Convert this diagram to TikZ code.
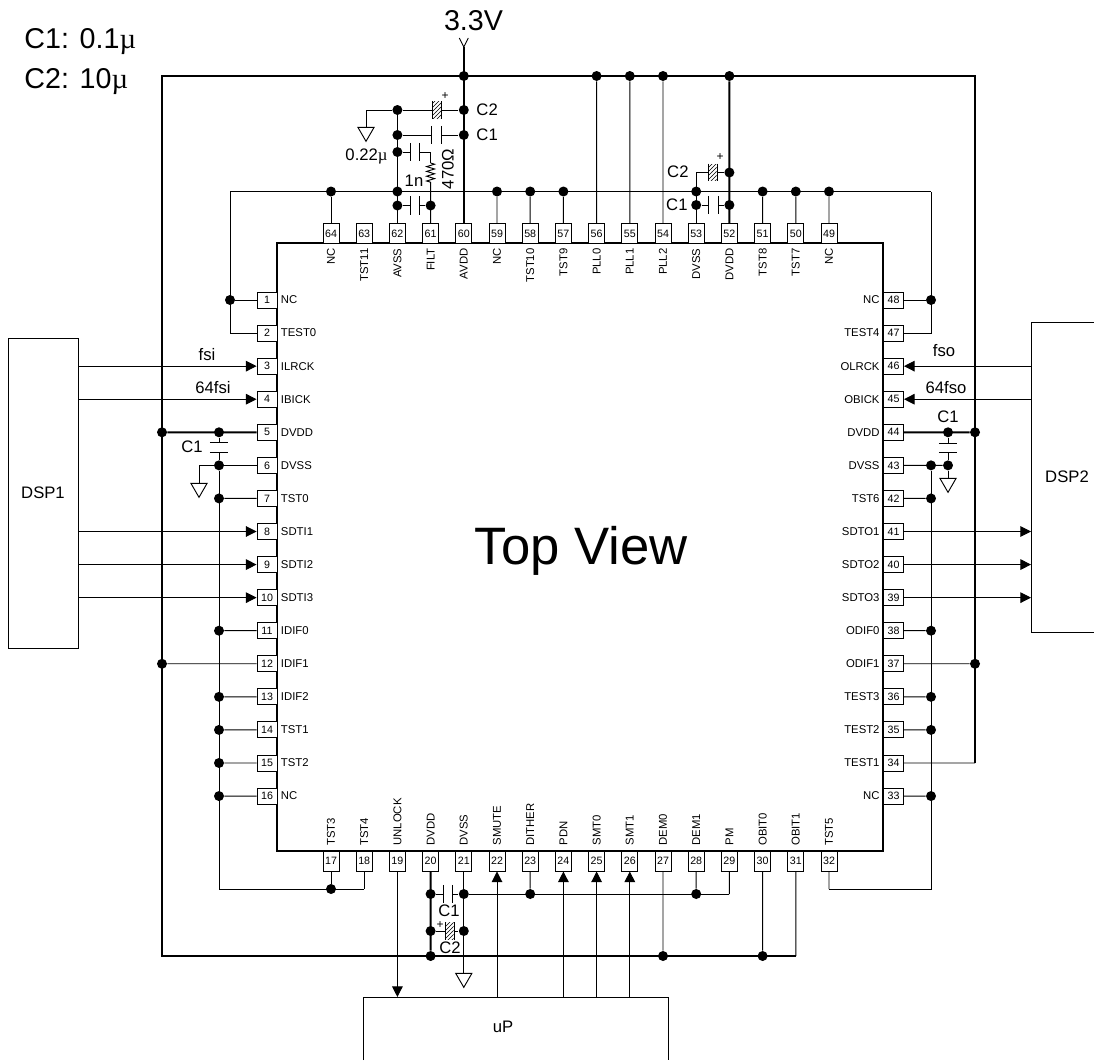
\documentclass[tikz,border=0pt]{standalone}
\usepackage{fontspec}
\setmainfont{Liberation Sans}
\newfontfamily\mufont{Liberation Serif}
\usetikzlibrary{arrows.meta,patterns,shapes.geometric,decorations.pathmorphing}

\tikzset{
    pinh/.style={draw, fill=white, minimum width=15pt, minimum height=12pt, inner sep=0pt, font=\fontsize{8}{9}\selectfont},
    pinv/.style={draw, fill=white, minimum width=12pt, minimum height=15pt, inner sep=0pt, font=\fontsize{8}{9}\selectfont},
    pinname/.style={inner sep=0pt, font=\fontsize{8.5}{10}\selectfont},
    jdot/.style={circle, fill=black, minimum size=7.5pt, inner sep=0pt},
    txt/.style={inner sep=0pt, font=\fontsize{12.5}{14}\selectfont},
    bigtxt/.style={inner sep=0pt, font=\fontsize{21.5}{24}\selectfont},
    plus/.style={inner sep=0pt, font=\fontsize{9}{10}\selectfont},
    pwr/.style={line width=1.5pt},
    sig/.style={-{Triangle[length=8pt,width=8pt]}},
    capv/.style={minimum width=6.4pt, minimum height=13pt, inner sep=0pt},
    caph/.style={minimum width=13pt, minimum height=6.4pt, inner sep=0pt},
    polar/.style={minimum width=6pt, minimum height=12.5pt, inner sep=0pt, pattern=north east lines},
    gnd/.style={draw, fill=white, regular polygon, regular polygon sides=3, shape border rotate=180, minimum size=14pt, inner sep=0pt},
}
\newcommand{\mic}{{\mufont µ}}

\begin{document}
\begin{tikzpicture}[x=0.75pt, y=-0.75pt, line width=0.7pt]
    \useasboundingbox (0,0) rectangle (1094,1060);

    % chip and pins
    \node[draw, pwr, minimum width=454.5pt, minimum height=456pt, inner sep=0pt] (chip) at (580,547) {};
    \node[inner sep=0pt, font=\fontsize{39.5}{44}\selectfont] (ttl) at (581,551) {Top View};
    \foreach \n/\lbl [evaluate=\n as \py using 300+(\n-1)*33.07] in {1/NC,2/TEST0,3/ILRCK,4/IBICK,5/DVDD,6/DVSS,7/TST0,8/SDTI1,9/SDTI2,10/SDTI3,11/IDIF0,12/IDIF1,13/IDIF2,14/TST1,15/TST2,16/NC} {
        \node[pinh] (p\n) at (267,\py) {\n};
        \node[pinname, anchor=west] (lb\n) at (280.5,\py) {\lbl};
    }
    \foreach \n/\lbl [evaluate=\n as \py using 300+(48-\n)*33.07] in {48/NC,47/TEST4,46/OLRCK,45/OBICK,44/DVDD,43/DVSS,42/TST6,41/SDTO1,40/SDTO2,39/SDTO3,38/ODIF0,37/ODIF1,36/TEST3,35/TEST2,34/TEST1,33/NC} {
        \node[pinh] (p\n) at (893.5,\py) {\n};
        \node[pinname, anchor=east] (lb\n) at (880,\py) {\lbl};
    }
    \foreach \n/\lbl [evaluate=\n as \px using 331+(64-\n)*33.2] in {64/NC,63/TST11,62/AVSS,61/FILT,60/AVDD,59/NC,58/TST10,57/TST9,56/PLL0,55/PLL1,54/PLL2,53/DVSS,52/DVDD,51/TST8,50/TST7,49/NC} {
        \node[pinv] (p\n) at (\px,233.5) {\n};
        \node[pinname, rotate=90, anchor=east] (lb\n) at (\px,248) {\lbl};
    }
    \foreach \n/\lbl [evaluate=\n as \px using 331+(\n-17)*33.2] in {17/TST3,18/TST4,19/UNLOCK,20/DVDD,21/DVSS,22/SMUTE,23/DITHER,24/PDN,25/SMT0,26/SMT1,27/DEM0,28/DEM1,29/PM,30/OBIT0,31/OBIT1,32/TST5} {
        \node[pinv] (p\n) at (\px,861) {\n};
        \node[pinname, rotate=90, anchor=west] (lb\n) at (\px,846) {\lbl};
    }

    % blocks
    \node[draw, minimum width=52.5pt, minimum height=232.5pt, inner sep=0pt, font=\fontsize{12.5}{14}\selectfont] (dsp1) at (43,493) {DSP1};
    \coordinate (dsp2a) at (1094,322);
    \coordinate (dsp2b) at (1031,322);
    \coordinate (dsp2c) at (1031,632);
    \coordinate (dsp2d) at (1094,632);
    \draw (dsp2a) -- (dsp2b) -- (dsp2c) -- (dsp2d);
    \node[txt] (dsp2) at (1067,477) {DSP2};
    \coordinate (upa) at (363,1060);
    \coordinate (upb) at (363,997);
    \coordinate (upc) at (668,997);
    \coordinate (upd) at (668,1060);
    \draw (upa) -- (upb) -- (upc) -- (upd);
    \node[txt] (up) at (503,1027) {uP};

    % junctions
    \foreach \nm/\px/\py in {t60/463.8/76,t56/596.6/76,t55/629.8/76,t54/663/76,t52/729.4/76,a1/397.4/110,a2/463.8/110,b1/397.4/135,b2/463.8/135,f1/397.4/152,g62/397.4/191.5,h1/397.4/205.5,h2/430.6/205.5,n64/331/191.5,n59/497/191.5,n58/530.2/191.5,n57/563.4/191.5,n53/696.2/191.5,n51/762.6/191.5,n50/795.8/191.5,n49/829/191.5,c2r/729.4/172.5,c1l/696.2/205,c1r/729.4/205,l1/230/300,r48/931/300,v5/162/432.28,w5/219/432.28,w6/219/465.35,w7/219/498.42,w11/219/630.7,w13/219/696.84,w14/219/729.91,w15/219/762.98,w16/219/796.05,v12/162/663.77,b17/331/889,v44/975/432.28,w44/948/432.28,w43/948/465.35,x43/931/465.35,x42/931/498.42,x38/931/630.7,x36/931/696.84,x35/931/729.91,x33/931/796.05,v37/975/663.77,u1/430.6/894,u2/463.8/894,u3/430.6/931,u4/463.8/931,u5/430.6/956,k23/530.2/894,k28/696.2/894,m27/663/956,m30/762.6/956} {
        \node[jdot] (\nm) at (\px,\py) {};
    }

    % frame
    \coordinate (frbr) at (975,762.98);
    \coordinate (frtr) at (975,76);
    \coordinate (frtl) at (162,76);
    \coordinate (frbl) at (162,956);
    \coordinate (frbe) at (795.8,956);
    \draw[pwr] (frbr) -- (frtr) -- (frtl) -- (frbl) -- (frbe);
    \draw (p34) -- (frbr);
    \draw (p31) -- (frbe);

    % supply
    \coordinate (vin) at (463.8,47);
    \coordinate (vinl) at (459.3,38);
    \coordinate (vinr) at (468.3,38);
    \node[bigtxt] (vlab) at (473.5,21) {3.3V};
    \draw (vinl) -- (vin) -- (vinr);
    \draw[pwr] (vin) -- (p60);
    \draw[pwr] (t52) -- (p52);
    \draw (t56) -- (p56);
    \draw (t55) -- (p55);
    \draw (t54) -- (p54);

    % bias line at the top
    \coordinate (bl) at (230,191.5);
    \coordinate (br) at (931,191.5);
    \draw (bl) -- (br);
    \draw (p2) -| (bl);
    \draw (p47) -| (br);
    \draw (l1) -- (p1);
    \draw (r48) -- (p48);
    \draw (n64) -- (p64);
    \draw (n59) -- (p59);
    \draw (n58) -- (p58);
    \draw (n57) -- (p57);
    \draw (n51) -- (p51);
    \draw (n50) -- (p50);
    \draw (n49) -- (p49);

    % filter near pins 60 to 62
    \node[polar] (ca) at (437,110) {};
    \node[capv] (cb) at (436.5,135) {};
    \node[capv] (cc) at (415,152) {};
    \node[capv] (cd) at (415,205.5) {};
    \node[gnd] (g1) at (366,132) {};
    \coordinate (res1) at (430.6,163);
    \coordinate (res2) at (430.6,183);
    \draw (a1) -- (p62);
    \draw (a1) -| (g1.north);
    \draw (a1) -- (ca.west);
    \draw (ca.east) -- (a2);
    \draw (b1) -- (cb.west);
    \draw (cb.east) -- (b2);
    \draw (f1) -- (cc.west);
    \draw (cc.east) -| (res1);
    \draw[decorate, decoration={zigzag, segment length=3.6pt, amplitude=3pt}] (res1) -- (res2);
    \draw (res2) -- (p61);
    \draw (h1) -- (cd.west);
    \draw (cd.east) -- (h2);
    \node[plus] (pl1) at (445,96) {+};
    \node[txt, anchor=west] (lc2a) at (476,110) {C2};
    \node[txt, anchor=west] (lc1a) at (476,135) {C1};
    \node[txt, anchor=east] (lf1) at (388,156) {0.22\mic};
    \node[txt] (lf2) at (414,181) {1n};
    \node[txt, rotate=90] (lf3) at (448,169) {470Ω};

    % decoupling near pins 52 and 53
    \node[polar] (ce) at (712.5,172.5) {};
    \node[capv] (cf) at (713.5,205) {};
    \draw (p53) |- (ce.west);
    \draw (ce.east) -- (c2r);
    \draw (c1l) -- (cf.west);
    \draw (cf.east) -- (c1r);
    \node[plus] (pl2) at (720,157) {+};
    \node[txt, anchor=east] (lc2b) at (689,172) {C2};
    \node[txt, anchor=east] (lc1b) at (688,205) {C1};

    % left side
    \draw[sig] (dsp1.east |- p3) -- (p3);
    \draw[sig] (dsp1.east |- p4) -- (p4);
    \draw[sig] (dsp1.east |- p8) -- (p8);
    \draw[sig] (dsp1.east |- p9) -- (p9);
    \draw[sig] (dsp1.east |- p10) -- (p10);
    \node[txt] (lfsi) at (207,355) {fsi};
    \node[txt] (l64fsi) at (213,388) {64fsi};
    \node[caph] (cg) at (219,447.5) {};
    \node[gnd] (g2) at (199,488) {};
    \coordinate (k18) at (364.2,889);
    \draw[pwr] (v5) -- (p5);
    \draw (w5) -- (cg.north);
    \draw (cg.south) -- (w6);
    \draw (p6) -| (g2.north);
    \draw (w6) |- (k18);
    \draw (k18) -- (p18);
    \draw (b17) -- (p17);
    \draw (w7) -- (p7);
    \draw (w11) -- (p11);
    \draw (w13) -- (p13);
    \draw (w14) -- (p14);
    \draw (w15) -- (p15);
    \draw (w16) -- (p16);
    \draw (v12) -- (p12);
    \node[txt] (lc1c) at (192,447) {C1};

    % right side
    \draw[sig] (dsp2b |- p46) -- (p46);
    \draw[sig] (dsp2b |- p45) -- (p45);
    \draw[sig] (p41) -- (dsp2b |- p41);
    \draw[sig] (p40) -- (dsp2b |- p40);
    \draw[sig] (p39) -- (dsp2b |- p39);
    \node[txt] (lfso) at (944,351) {fso};
    \node[txt] (l64fso) at (946,388) {64fso};
    \node[caph] (ch) at (948,448) {};
    \node[gnd] (g3) at (948,483) {};
    \coordinate (k32) at (829,889);
    \draw[pwr] (p44) -- (v44);
    \draw (w44) -- (ch.north);
    \draw (ch.south) -- (w43);
    \draw (w43) -- (g3.north);
    \draw (p43) -- (w43);
    \draw (x43) |- (k32);
    \draw (k32) -- (p32);
    \draw (x42) -- (p42);
    \draw (x38) -- (p38);
    \draw (x36) -- (p36);
    \draw (x35) -- (p35);
    \draw (x33) -- (p33);
    \draw (v37) -- (p37);
    \node[txt] (lc1d) at (948,417) {C1};

    % bottom side
    \node[capv] (ci) at (447.7,894) {};
    \node[polar] (cj) at (449.5,931) {};
    \node[gnd] (g4) at (463.8,978) {};
    \coordinate (k29) at (729.4,894);
    \draw[pwr] (p20) -- (u5);
    \draw (p21) -- (g4.north);
    \draw (u1) -- (ci.west);
    \draw (ci.east) -- (u2);
    \draw (u3) -- (cj.west);
    \draw (cj.east) -- (u4);
    \draw (u2) -- (k29);
    \draw (k29) -- (p29);
    \draw (k23) -- (p23);
    \draw (k28) -- (p28);
    \draw (m27) -- (p27);
    \draw (m30) -- (p30);
    \draw[sig] (p19) -- (p19 |- upb);
    \draw[sig] (p22 |- upb) -- (p22);
    \draw[sig] (p24 |- upb) -- (p24);
    \draw[sig] (p25 |- upb) -- (p25);
    \draw[sig] (p26 |- upb) -- (p26);
    \node[plus] (pl3) at (440,925) {+};
    \node[txt] (lc1e) at (449,911) {C1};
    \node[txt] (lc2e) at (450,948) {C2};

    % capacitor plates
    \foreach \c in {cb,cc,cd,cf,ci,ca,ce,cj} {
        \draw (\c.north west) -- (\c.south west);
        \draw (\c.north east) -- (\c.south east);
    }
    \foreach \c in {cg,ch} {
        \draw (\c.north west) -- (\c.north east);
        \draw (\c.south west) -- (\c.south east);
    }

    % capacitor values
    \node[bigtxt, anchor=west] (val1) at (24,42) {C1: 0.1\mic};
    \node[bigtxt, anchor=west] (val2) at (24,82) {C2: 10\mic};
\end{tikzpicture}
\end{document}
